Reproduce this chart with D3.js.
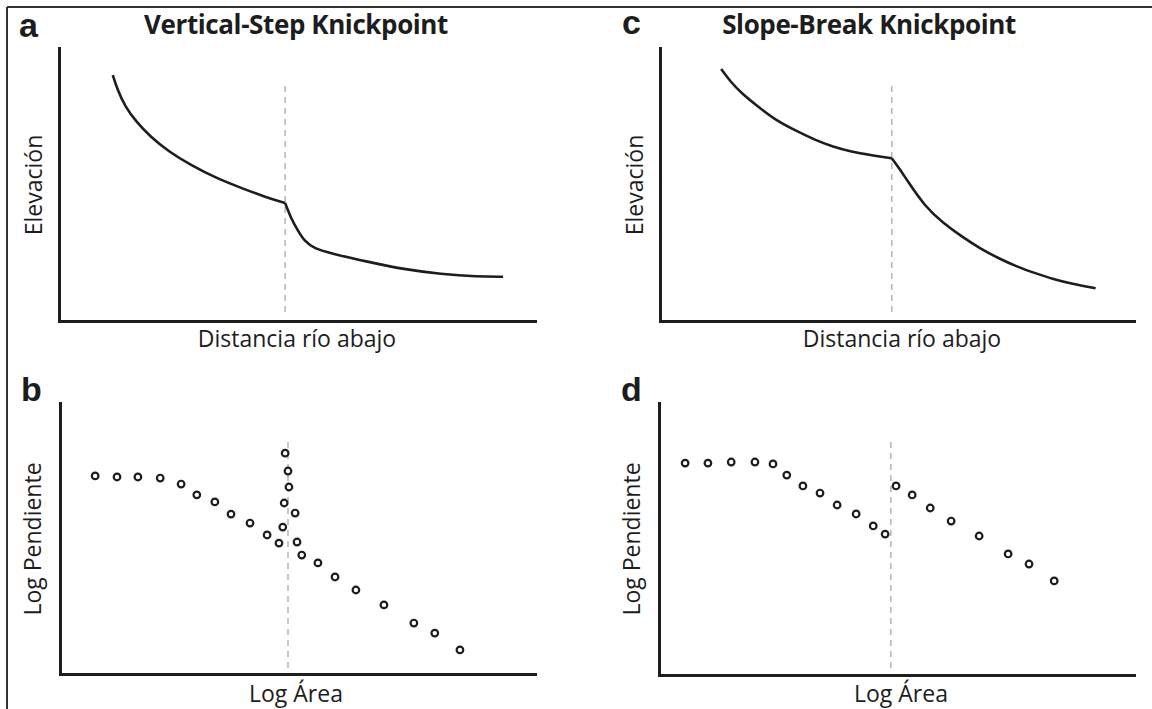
<!DOCTYPE html>
<html>
<head>
<meta charset="utf-8">
<script src="https://cdn.jsdelivr.net/npm/d3@7"></script>
<style>
  html, body { margin: 0; padding: 0; background: #fff; }
  svg { display: block; }
</style>
</head>
<body>
<svg id="chart" width="1152" height="709"></svg>
<script>
// ---------------- DATA (abstract units 0-100 on each axis) ----------------
const panelLetters = ["a", "b", "c", "d"];
const panelTitles = ["Vertical-Step Knickpoint", "", "Slope-Break Knickpoint", ""];
const xLabels = ["Distancia río abajo", "Log Área", "Distancia río abajo", "Log Área"];
const yLabels = ["Elevación", "Log Pendiente", "Elevación", "Log Pendiente"];

// Panel a: longitudinal profile, vertical-step knickpoint
const profileA_upper = [[11.3,90.1],[12.3,84.6],[13.9,78.5],[16.2,73.0],[19.2,67.5],[23.1,62.0],[27.7,57.1],[33.2,52.2],[38.5,48.6],[43.2,45.5],[47.5,43.2]];
const profileA_lower = [[47.5,43.2],[48.6,38.2],[50.1,33.3],[51.7,29.0],[53.6,26.6],[57.1,24.8],[64.8,21.7],[72.5,18.9],[80.2,17.2],[87.9,16.2],[93.3,16.2]];
const knickA = 47.5;

// Panel c: longitudinal profile, slope-break knickpoint
const profileC_upper = [[12.9,92.3],[14.8,87.8],[17.2,83.4],[21.0,78.1],[24.9,73.0],[28.8,69.6],[32.7,66.3],[36.5,63.8],[40.4,62.0],[44.3,60.8],[48.9,59.6]];
const profileC_lower = [[48.9,59.6],[50.5,55.9],[52.1,51.6],[55.9,41.9],[59.8,35.8],[63.7,30.9],[67.5,26.6],[71.4,23.0],[75.3,19.9],[79.2,17.5],[83.0,15.3],[86.9,13.6],[91.9,12.0]];
const knickC = 48.9;

// Panel b: slope-area, vertical-step knickpoint
const slopeAreaB = [[7.4,73.1],[12.0,72.7],[16.4,72.7],[21.1,72.3],[25.5,70.1],[28.8,66.1],[32.6,63.5],[36.0,59.0],[40.0,55.7],[43.6,51.3],[46.1,48.3],
  [46.9,54.2],[47.2,63.1],[48.2,69.0],[48.0,74.9],[47.4,81.5],
  [49.5,59.4],[49.9,48.7],[50.9,43.9],[54.3,41.0],[57.9,35.8],[62.3,31.0],[68.2,25.5],[74.5,18.8],[78.9,15.1],[84.2,8.9]];
const knickB = 48.0;

// Panel d: slope-area, slope-break knickpoint
const slopeAreaD = [[5.5,77.9],[10.3,77.9],[15.2,78.3],[20.2,78.3],[24.0,77.6],[26.9,73.5],[30.3,69.5],[33.9,66.9],[37.5,62.5],[41.5,59.2],[45.1,54.8],[47.6,51.8],
  [49.9,69.5],[53.3,66.2],[57.1,61.4],[61.5,56.6],[67.4,51.1],[73.5,44.5],[77.9,40.8],[83.2,34.6]];
const knickD = 48.8;

const dashRange = [[3.3, 87.2], [2.2, 86.3], [3.3, 87.2], [2.6, 86.4]];

// ---------------- LAYOUT ----------------
const ink = "#1d1d1d";
const svg = d3.select("#chart");

// frame (top and left rules)
svg.append("line").attr("x1", 7).attr("y1", 7).attr("x2", 1152).attr("y2", 7)
  .attr("stroke", "#333").attr("stroke-width", 2);
svg.append("line").attr("x1", 7).attr("y1", 7).attr("x2", 7).attr("y2", 709)
  .attr("stroke", "#333").attr("stroke-width", 2);

const boxes = [
  {x0: 59,  x1: 535,  y0: 48,  y1: 321, letterX: 19, letterY: 37,  titleX: 296, yLabX: 42,  yLabY: 185, xLabX: 297, xLabY: 347},
  {x0: 60,  x1: 535,  y0: 403, y1: 674, letterX: 21, letterY: 401, titleX: 296, yLabX: 41,  yLabY: 539, xLabX: 296, xLabY: 702},
  {x0: 660, x1: 1134, y0: 48,  y1: 321, letterX: 622, letterY: 34, titleX: 869, yLabX: 643, yLabY: 185, xLabX: 902, xLabY: 347},
  {x0: 659, x1: 1134, y0: 403, y1: 675, letterX: 621, letterY: 401, titleX: 869, yLabX: 640, yLabY: 539, xLabX: 901, xLabY: 702}
];

const profiles = [[profileA_upper, profileA_lower], null, [profileC_upper, profileC_lower], null];
const scatters = [null, slopeAreaB, null, slopeAreaD];
const knicks = [knickA, knickB, knickC, knickD];

boxes.forEach((b, i) => {
  const x = d3.scaleLinear().domain([0, 100]).range([b.x0, b.x1]);
  const y = d3.scaleLinear().domain([0, 100]).range([b.y1, b.y0]);
  const g = svg.append("g");

  // dashed knickpoint marker
  g.append("line")
    .attr("x1", x(knicks[i])).attr("x2", x(knicks[i]))
    .attr("y1", y(dashRange[i][0])).attr("y2", y(dashRange[i][1]))
    .attr("stroke", "#b5b5b5").attr("stroke-width", 1.5)
    .attr("stroke-dasharray", "6,5");

  // axes (no ticks)
  const xAxis = g.append("g").attr("transform", `translate(0,${b.y1})`)
    .call(d3.axisBottom(x).ticks(0).tickSizeOuter(0));
  const yAxis = g.append("g").attr("transform", `translate(${b.x0},0)`)
    .call(d3.axisLeft(y).ticks(0).tickSizeOuter(0));
  [xAxis, yAxis].forEach(ax => {
    ax.select(".domain").attr("stroke", ink).attr("stroke-width", 3).attr("stroke-linecap", "square");
    ax.selectAll(".tick").remove();
  });

  // profile curves
  if (profiles[i]) {
    const line = d3.line().x(d => x(d[0])).y(d => y(d[1])).curve(d3.curveBasis);
    profiles[i].forEach(seg => {
      g.append("path").attr("d", line(seg))
        .attr("fill", "none").attr("stroke", ink).attr("stroke-width", 2.6)
        .attr("stroke-linejoin", "round");
    });
  }

  // slope-area points
  if (scatters[i]) {
    g.selectAll("circle.pt").data(scatters[i]).join("circle")
      .attr("class", "pt")
      .attr("cx", d => x(d[0])).attr("cy", d => y(d[1]))
      .attr("r", 3.3).attr("fill", "#fff")
      .attr("stroke", ink).attr("stroke-width", 2.2);
  }

  // panel letter
  g.append("text").attr("x", b.letterX).attr("y", b.letterY)
    .attr("font-family", "'Liberation Sans', Arial, sans-serif")
    .attr("font-weight", 700).attr("font-size", 34).attr("fill", ink)
    .text(panelLetters[i]);

  // title
  if (panelTitles[i]) {
    g.append("text").attr("x", b.titleX).attr("y", 34)
      .attr("text-anchor", "middle")
      .attr("font-family", "'Open Sans', sans-serif")
      .attr("font-weight", 700).attr("font-size", 26).attr("fill", ink)
      .attr("letter-spacing", -0.4)
      .text(panelTitles[i]);
  }

  // x label
  g.append("text").attr("x", b.xLabX).attr("y", b.xLabY)
    .attr("text-anchor", "middle")
    .attr("font-family", "'Open Sans', sans-serif")
    .attr("font-size", 23).attr("fill", ink)
    .text(xLabels[i]);

  // y label
  g.append("text")
    .attr("transform", `translate(${b.yLabX},${b.yLabY}) rotate(-90)`)
    .attr("text-anchor", "middle")
    .attr("font-family", "'Open Sans', sans-serif")
    .attr("font-size", 23).attr("fill", ink)
    .text(yLabels[i]);
});
</script>
</body>
</html>
